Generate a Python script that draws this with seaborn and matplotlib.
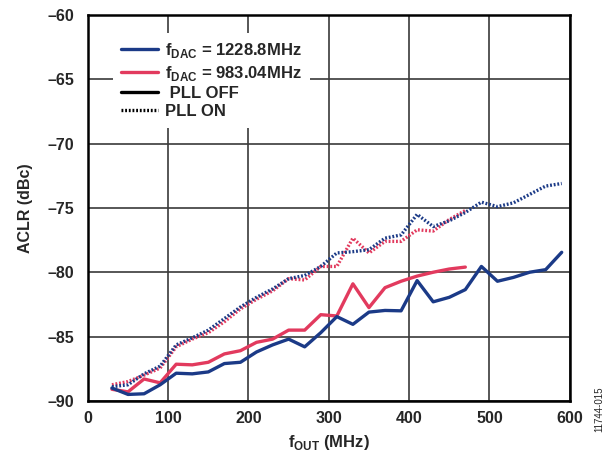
import pandas as pd
import seaborn as sns
import matplotlib.pyplot as plt
from matplotlib.lines import Line2D

# f_OUT frequencies (MHz)
freq_1228 = [30, 50, 70, 90, 110, 130, 150, 170, 190, 210, 230, 250, 270, 290, 310,
             330, 350, 370, 390, 410, 430, 450, 470, 490, 510, 530, 550, 570, 590]
freq_983 = [30, 50, 70, 90, 110, 130, 150, 170, 190, 210, 230, 250, 270, 290, 310,
            330, 350, 370, 390, 410, 430, 450, 470]

# ACLR (dBc)
aclr_1228_off = [-89.0, -89.5, -89.45, -88.75, -87.85, -87.9, -87.75, -87.1, -87.0, -86.2,
                 -85.65, -85.2, -85.8, -84.7, -83.45, -84.05, -83.1, -82.97, -83.0, -80.65,
                 -82.3, -81.95, -81.35, -79.55, -80.7, -80.4, -80.0, -79.8, -78.45]
aclr_1228_on = [-88.9, -88.75, -87.9, -87.3, -85.65, -85.1, -84.5, -83.6, -82.7, -81.95,
                -81.3, -80.5, -80.25, -79.55, -78.5, -78.4, -78.25, -77.35, -77.1, -75.5,
                -76.45, -76.0, -75.35, -74.55, -74.9, -74.6, -73.95, -73.3, -73.1]
aclr_983_off = [-89.1, -89.3, -88.3, -88.6, -87.15, -87.2, -87.0, -86.35, -86.1, -85.45,
                -85.2, -84.5, -84.5, -83.3, -83.4, -80.9, -82.75, -81.2, -80.7, -80.3,
                -80.0, -79.75, -79.6]
aclr_983_on = [-88.75, -88.5, -88.0, -87.45, -85.8, -85.2, -84.7, -83.85, -82.85, -82.1,
               -81.45, -80.5, -80.6, -79.55, -79.55, -77.35, -78.5, -77.6, -77.6, -76.7,
               -76.8, -75.9, -75.2]

label_1228 = "1228.8MHz"
label_983 = "983.04MHz"

rows = []
for f, v in zip(freq_1228, aclr_1228_off):
    rows.append({"fout": f, "aclr": v, "fdac": label_1228, "pll": "OFF"})
for f, v in zip(freq_1228, aclr_1228_on):
    rows.append({"fout": f, "aclr": v, "fdac": label_1228, "pll": "ON"})
for f, v in zip(freq_983, aclr_983_off):
    rows.append({"fout": f, "aclr": v, "fdac": label_983, "pll": "OFF"})
for f, v in zip(freq_983, aclr_983_on):
    rows.append({"fout": f, "aclr": v, "fdac": label_983, "pll": "ON"})
df = pd.DataFrame(rows)

blue = "#1B3A87"
pink = "#E23A5E"

sns.set_style("white")
plt.rcParams['font.family'] = ['Liberation Sans', 'DejaVu Sans']
plt.rcParams['font.weight'] = 'bold'
plt.rcParams['mathtext.fontset'] = 'custom'
plt.rcParams['mathtext.bf'] = 'Liberation Sans:bold'
plt.rcParams['mathtext.rm'] = 'Liberation Sans:bold'
plt.rcParams['axes.unicode_minus'] = False

fig = plt.figure(figsize=(6.1, 4.55), dpi=100)
ax = fig.add_axes([0.144, 0.119, 0.79, 0.848])

# draw the 983 set first so the 1228 lines sit on top
sns.lineplot(data=df, x="fout", y="aclr", hue="fdac", style="pll",
             hue_order=[label_983, label_1228],
             palette={label_1228: blue, label_983: pink},
             dashes={"OFF": "", "ON": (0.55, 0.55)},
             linewidth=2.4, legend=False, ax=ax, sort=False)

ax.set_xlim(0, 600)
ax.set_ylim(-90, -60)
ax.set_xticks(range(0, 601, 100))
ax.set_yticks(range(-90, -59, 5))
ax.set_yticklabels([f"\u2013{abs(t)}" for t in range(-90, -59, 5)])
ax.tick_params(labelsize=11.5, length=0)
ax.tick_params(axis="x", pad=7)
ax.tick_params(axis="y", pad=10)
for lab in ax.get_xticklabels() + ax.get_yticklabels():
    lab.set_fontweight('bold')

ax.grid(True, color="#3a3a3a", linewidth=1.2)
ax.set_axisbelow(True)
for s in ax.spines.values():
    s.set_color("black")
    s.set_linewidth(1.8)

ax.set_xlabel(r"$\mathbf{f}_{\mathbf{OUT}}$ (MHz)", fontsize=12, fontweight='bold', labelpad=5)
ax.set_ylabel("ACLR (dBc)", fontsize=11.5, fontweight='bold', labelpad=10)

handles = [
    Line2D([], [], color=blue, linewidth=2.4),
    Line2D([], [], color=pink, linewidth=2.4),
    Line2D([], [], color="black", linewidth=2.4),
    Line2D([], [], color="black", linewidth=2.4, linestyle=(0, (0.55, 0.55))),
]
labels = [
    r"$\mathbf{f}_{\mathbf{DAC}}$ = 1228.8MHz",
    r"$\mathbf{f}_{\mathbf{DAC}}$ = 983.04MHz",
    " PLL OFF",
    "PLL ON",
]
leg = ax.legend(handles, labels, loc="upper left", bbox_to_anchor=(0.035, 0.975),
                frameon=True, facecolor="white", edgecolor="none", framealpha=1,
                fancybox=False, handlelength=2.2, handletextpad=0.4,
                labelspacing=0.2, borderpad=0.5, prop={'weight': 'bold', 'size': 12})

fig.text(0.982, 0.10, "11744-015", rotation=90, fontsize=7, fontweight='normal',
         ha="center", va="center")

fig.savefig("out.png", dpi=100)
